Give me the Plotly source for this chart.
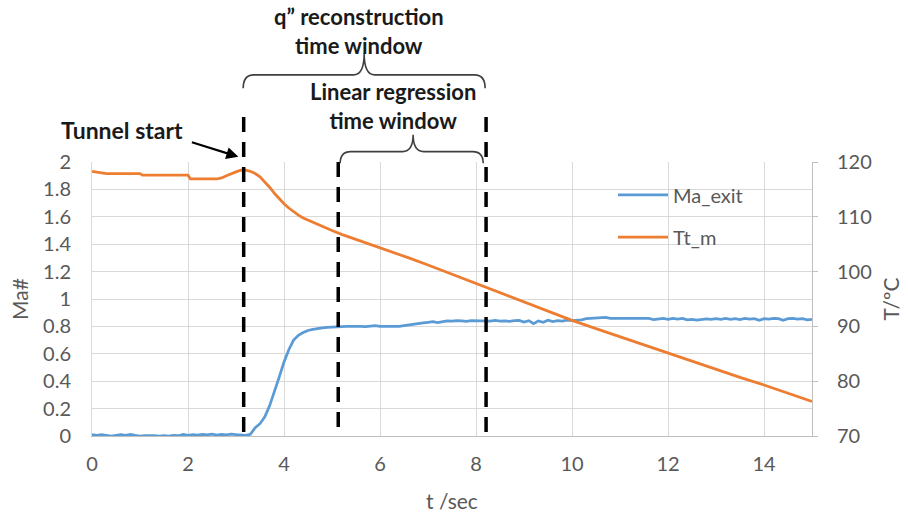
import plotly.graph_objects as go

# ---------------- data ----------------
t_ma = [round(i * 0.1, 1) for i in range(151)]
ma_exit = [
    0.010, 0.005, 0.010, 0.005, 0.000, 0.005, 0.010, 0.005, 0.012, 0.005,
    0.000, 0.003, 0.000, 0.002, 0.000, 0.003, 0.000, 0.004, 0.002, 0.012,
    0.005, 0.010, 0.006, 0.012, 0.008, 0.013, 0.007, 0.012, 0.009, 0.014,
    0.010, 0.008, 0.005, 0.012, 0.060, 0.090, 0.140, 0.220, 0.320, 0.430,
    0.540, 0.630, 0.700, 0.735, 0.755, 0.770, 0.778, 0.785, 0.790, 0.793,
    0.796, 0.800, 0.800, 0.801, 0.800, 0.802, 0.800, 0.799, 0.800, 0.806,
    0.800, 0.798, 0.800, 0.801, 0.800, 0.806, 0.812, 0.818, 0.822, 0.826,
    0.830, 0.834, 0.828, 0.836, 0.840, 0.838, 0.842, 0.840, 0.836, 0.842,
    0.840, 0.842, 0.836, 0.838, 0.844, 0.838, 0.840, 0.836, 0.842, 0.844,
    0.832, 0.842, 0.820, 0.840, 0.830, 0.845, 0.835, 0.842, 0.838, 0.845,
    0.842, 0.844, 0.848, 0.856, 0.858, 0.858, 0.860, 0.866, 0.858, 0.858,
    0.858, 0.857, 0.858, 0.857, 0.858, 0.856, 0.858, 0.850, 0.856, 0.858,
    0.852, 0.858, 0.854, 0.858, 0.848, 0.852, 0.846, 0.852, 0.855, 0.852,
    0.856, 0.852, 0.858, 0.852, 0.856, 0.850, 0.858, 0.854, 0.856, 0.845,
    0.856, 0.854, 0.858, 0.856, 0.844, 0.856, 0.858, 0.854, 0.857, 0.848,
    0.852,
]

t_tt = [0.0, 0.1, 0.2, 0.3, 1.0, 1.05, 2.0, 2.05, 2.6, 2.7, 2.8, 2.9,
        3.0, 3.1, 3.2, 3.3, 3.4, 3.5, 3.6, 3.7, 3.8, 3.9,
        4.0, 4.1, 4.2, 4.3, 4.4, 4.5, 4.6, 4.8, 5.0, 5.2, 5.4, 5.6, 5.8, 6.0,
        6.3, 6.6, 7.0, 7.5, 8.0, 8.5, 9.0, 9.5, 10.0, 10.5, 11.0, 11.5,
        12.0, 12.5, 13.0, 13.5, 14.0, 14.5, 15.0]
tt_m = [118.3, 118.2, 118.0, 117.9, 117.9, 117.6, 117.6, 116.9, 116.9, 117.1, 117.5, 117.9,
        118.2, 118.5, 118.5, 118.3, 117.9, 117.3, 116.4, 115.4, 114.3, 113.3,
        112.4, 111.6, 110.9, 110.3, 109.8, 109.4, 109.0, 108.2, 107.5, 106.8, 106.2, 105.6, 105.0, 104.4,
        103.5, 102.5, 101.2, 99.5, 97.8, 96.2, 94.5, 92.8, 91.1, 89.6, 88.1, 86.6,
        85.1, 83.6, 82.2, 80.7, 79.3, 77.8, 76.3]

# time-window markers (s)
tunnel_start = 3.16
regression_start = 5.13
window_end = 8.21

x_ticks = [0, 2, 4, 6, 8, 10, 12, 14]

FONT = "Lato"
GREY = "#595959"

fig = go.Figure()
fig.add_trace(go.Scatter(x=t_ma, y=ma_exit, mode="lines", name="Ma_exit",
                         line=dict(color="#5B9BD5", width=2.75), legend="legend"))
fig.add_trace(go.Scatter(x=t_tt, y=tt_m, mode="lines", name="Tt_m", yaxis="y2",
                         line=dict(color="#ED7D31", width=2.75), legend="legend2"))


def brace(x0, x1, xm, ye, yf, yt, r):
    return (f"M {x0},{ye} Q {x0},{yf} {x0 + r},{yf} L {xm - r},{yf} "
            f"Q {xm},{yf} {xm},{yt} Q {xm},{yf} {xm + r},{yf} "
            f"L {x1 - r},{yf} Q {x1},{yf} {x1},{ye}")


dash_line = dict(color="black", width=3.5, dash="15px,10px")
shapes = [
    dict(type="line", xref="x", yref="paper", x0=tunnel_start, x1=tunnel_start,
         y0=1.164, y1=0, line=dash_line),
    dict(type="line", xref="x", yref="paper", x0=regression_start, x1=regression_start,
         y0=1.0, y1=0, line=dash_line),
    dict(type="line", xref="x", yref="paper", x0=window_end, x1=window_end,
         y0=1.164, y1=0, line=dash_line),
    dict(type="path", xref="x", yref="paper",
         path=brace(3.15, 8.19, 5.67, 1.269, 1.318, 1.397, 0.22),
         line=dict(color="#404040", width=1.6)),
    dict(type="path", xref="x", yref="paper",
         path=brace(5.17, 8.15, 6.69, 0.995, 1.038, 1.099, 0.22),
         line=dict(color="#404040", width=1.6)),
]

bold2 = dict(family=FONT, size=22, color="#1a1a1a")
bold = dict(family=FONT, size=23, color="#1a1a1a")
annotations = [
    dict(x=5.57, y=1.478, xref="x", yref="paper", xanchor="center", yanchor="middle",
         text="<b>q” reconstruction<br>time window</b>", showarrow=False, font=bold2),
    dict(x=6.28, y=1.203, xref="x", yref="paper", xanchor="center", yanchor="middle",
         text="<b>Linear regression<br>time window</b>", showarrow=False, font=bold2),
    dict(x=0.635, y=1.115, xref="x", yref="paper", xanchor="center", yanchor="middle",
         text="<b>Tunnel start</b>", showarrow=False, font=bold),
    dict(x=3.05, y=1.019, xref="x", yref="paper", text="", showarrow=True,
         ax=-48, ay=-15, arrowhead=2, arrowsize=1.1, arrowwidth=2.2, arrowcolor="black"),
]

fig.update_layout(
    width=908, height=521,
    margin=dict(l=92, r=96, t=162, b=85, autoexpand=False),
    paper_bgcolor="white", plot_bgcolor="white",
    font=dict(family=FONT, size=20, color=GREY),
    showlegend=True,
    legend=dict(x=0.7236, y=0.88, xanchor="left", yanchor="middle", itemwidth=50,
                bgcolor="rgba(0,0,0,0)", font=dict(size=20, color=GREY)),
    legend2=dict(x=0.7236, y=0.726, xanchor="left", yanchor="middle", itemwidth=50,
                 bgcolor="rgba(0,0,0,0)", font=dict(size=20, color=GREY)),
    xaxis=dict(range=[0, 15], tickvals=x_ticks, showgrid=True, gridcolor="#d9d9d9",
               gridwidth=1, zeroline=False, showline=True, linecolor="#bfbfbf",
               linewidth=1, ticks="", ticklabelstandoff=10, automargin=False,
               tickfont=dict(size=20, color=GREY),
               title=dict(text="t /sec", font=dict(size=21, color=GREY), standoff=20)),
    yaxis=dict(range=[0, 2], dtick=0.2, showgrid=True, gridcolor="#d9d9d9",
               zeroline=False, showline=True, linecolor="#d9d9d9", automargin=False,
               ticks="", ticklabelstandoff=16, tickfont=dict(size=20, color=GREY),
               title=dict(text="Ma#", font=dict(size=21, color=GREY), standoff=8)),
    yaxis2=dict(range=[70, 120], dtick=10, overlaying="y", side="right",
                showgrid=False, zeroline=False, showline=True, linecolor="#bfbfbf",
                ticks="outside", ticklen=5, tickcolor="#bfbfbf", automargin=False,
                ticklabelstandoff=15, tickfont=dict(size=20, color=GREY),
                title=dict(text="T/ºC", font=dict(size=21, color=GREY), standoff=13)),
    shapes=shapes,
    annotations=annotations,
)

fig.write_html("out.html")
